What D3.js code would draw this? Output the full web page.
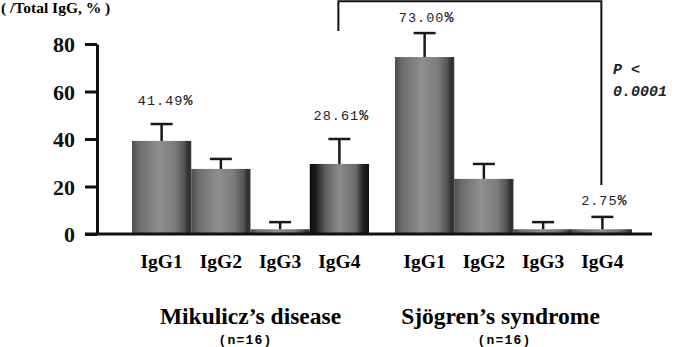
<!DOCTYPE html>
<html>
<head>
<meta charset="utf-8">
<script src="https://cdn.jsdelivr.net/npm/d3@7"></script>
<style>
  body { margin: 0; background: #fff; }
  svg { display: block; }
</style>
</head>
<body>
<svg id="chart"></svg>
<script>
const width = 676;
const height = 347;

// data
const groups = ["Mikulicz\u2019s disease", "Sj\u00f6gren\u2019s syndrome"];
const groupN = ["(n=16)", "(n=16)"];
const subclasses = ["IgG1", "IgG2", "IgG3", "IgG4"];
const mikuliczMeans = [39.2, 27.4, 2.0, 29.5];
const mikuliczErr = [7.1, 4.2, 3.0, 10.5];
const sjogrenMeans = [74.5, 23.2, 2.0, 2.0];
const sjogrenErr = [10.1, 6.3, 3.0, 5.2];
const mikuliczLabels = ["41.49", "", "", "28.61"];
const sjogrenLabels = ["73.00", "", "", "2.75"];
const yTicks = [0, 20, 40, 60, 80];

const rows = [];
[mikuliczMeans, sjogrenMeans].forEach((means, gi) => {
  const errs = gi === 0 ? mikuliczErr : sjogrenErr;
  const labs = gi === 0 ? mikuliczLabels : sjogrenLabels;
  means.forEach((v, i) => {
    rows.push({ group: groups[gi], sub: subclasses[i], value: v, err: errs[i], label: labs[i], gi, i });
  });
});

const svg = d3.select("#chart").attr("width", width).attr("height", height);

const y = d3.scaleLinear().domain([0, 80]).range([234, 44]);
const x0 = d3.scaleBand().domain(groups).range([132, 632]).paddingInner(26 / 263);
const x1 = d3.scaleBand().domain(subclasses).range([0, x0.bandwidth()]);

const serif = "'Liberation Serif', 'Times New Roman', serif";
const mono = "'Liberation Mono', 'DejaVu Sans Mono', monospace";

// bar gradients
const defs = svg.append("defs");
function gradient(id, stops) {
  const g = defs.append("linearGradient").attr("id", id)
    .attr("x1", "0%").attr("x2", "100%").attr("y1", "0%").attr("y2", "0%");
  stops.forEach(([o, c]) => g.append("stop").attr("offset", o).attr("stop-color", c));
}
gradient("barGrad", [[0, "#4c4c4c"], [0.12, "#6c6c6c"], [0.45, "#8f8f8f"], [0.72, "#7c7c7c"], [0.88, "#555"], [0.95, "#2e2e2e"], [1, "#3c3c3c"]]);
gradient("barGradDark", [[0, "#0e0e0e"], [0.1, "#1a1a1a"], [0.25, "#5a5a5a"], [0.5, "#8c8c8c"], [0.78, "#6a6a6a"], [0.9, "#222"], [1, "#111"]]);

const xPos = (d) => x0(d.group) + x1(d.sub);
const cx = (d) => xPos(d) + x1.bandwidth() / 2;

svg.append("g")
  .selectAll("rect")
  .data(rows)
  .enter()
  .append("rect")
  .attr("x", xPos)
  .attr("y", (d) => y(d.value))
  .attr("width", x1.bandwidth())
  .attr("height", (d) => y(0) - y(d.value))
  .attr("fill", (d) => (d.gi === 0 && d.i === 3 ? "url(#barGradDark)" : "url(#barGrad)"));

// error bars (upper only)
const err = svg.append("g").attr("stroke", "#1a1a1a").attr("stroke-width", 2.5);
err.selectAll("line.stem")
  .data(rows)
  .enter()
  .append("line")
  .attr("class", "stem")
  .attr("x1", cx).attr("x2", cx)
  .attr("y1", (d) => y(d.value))
  .attr("y2", (d) => y(d.value + d.err));
err.selectAll("line.cap")
  .data(rows)
  .enter()
  .append("line")
  .attr("class", "cap")
  .attr("x1", (d) => cx(d) - 11).attr("x2", (d) => cx(d) + 11)
  .attr("y1", (d) => y(d.value + d.err))
  .attr("y2", (d) => y(d.value + d.err));

// y axis
const yAxis = svg.append("g")
  .attr("transform", "translate(97,0)")
  .call(d3.axisLeft(y).tickValues(yTicks).tickSize(12).tickSizeOuter(0).tickPadding(10))
  .attr("font-family", serif)
  .attr("font-size", 22)
  .attr("font-weight", "bold");
yAxis.select(".domain").attr("stroke", "#111").attr("stroke-width", 3);
yAxis.selectAll(".tick line").attr("stroke", "#111").attr("stroke-width", 3);
yAxis.selectAll(".tick text")
  .attr("fill", "#111")
  .attr("dy", "0.36em")
  .attr("font-family", serif);

// baseline
svg.append("line")
  .attr("x1", 85).attr("x2", 652)
  .attr("y1", y(0)).attr("y2", y(0))
  .attr("stroke", "#111").attr("stroke-width", 3);

// y axis unit label
svg.append("text")
  .attr("x", 1).attr("y", 13)
  .attr("font-family", serif)
  .attr("font-weight", "bold")
  .attr("font-size", 15.5)
  .text("( /Total IgG, % )");

// value labels
const vl = svg.append("g")
  .selectAll("text")
  .data(rows.filter((d) => d.label))
  .enter()
  .append("text")
  .attr("x", (d) => cx(d) + (d.gi === 0 && d.i === 0 ? 4 : 2))
  .attr("y", (d) => y(d.value + d.err) - (d.gi === 1 && d.i === 0 ? 11 : d.gi === 1 ? 12 : 19))
  .attr("text-anchor", "middle")
  .attr("font-family", mono)
  .attr("font-size", 13.5)
  .attr("letter-spacing", 1)
  .attr("fill", "#222");
vl.append("tspan").text((d) => d.label);
vl.append("tspan").attr("font-weight", "bold").attr("font-size", 15).text("%");

// subclass labels under each bar
svg.append("g")
  .selectAll("text")
  .data(rows)
  .enter()
  .append("text")
  .attr("x", cx)
  .attr("y", 268)
  .attr("text-anchor", "middle")
  .attr("font-family", serif)
  .attr("font-weight", "bold")
  .attr("font-size", 19.5)
  .text((d) => d.sub);

// group labels
const groupShift = [0, -13];
const nShift = [-5, -9];
const gc = (d) => x0(d) + x0.bandwidth() / 2;
svg.append("g")
  .selectAll("text")
  .data(groups)
  .enter()
  .append("text")
  .attr("x", (d, i) => gc(d) + groupShift[i])
  .attr("y", 324)
  .attr("text-anchor", "middle")
  .attr("font-family", serif)
  .attr("font-weight", "bold")
  .attr("font-size", 23.5)
  .text((d) => d);
svg.append("g")
  .selectAll("text")
  .data(groupN)
  .enter()
  .append("text")
  .attr("x", (d, i) => gc(groups[i]) + nShift[i])
  .attr("y", 344)
  .attr("text-anchor", "middle")
  .attr("font-family", mono)
  .attr("font-weight", "bold")
  .attr("font-size", 13)
  .attr("letter-spacing", 1.2)
  .text((d) => d);

// significance bracket between the IgG4 bars
const left = rows.find((d) => d.gi === 0 && d.i === 3);
const right = rows.find((d) => d.gi === 1 && d.i === 3);
svg.append("path")
  .attr("d", d3.line()([
    [cx(left) - 1, y(85.5)],
    [cx(left) - 1, y(98)],
    [cx(right) - 1, y(98)],
    [cx(right) - 1, y(20.6)]
  ]))
  .attr("fill", "none")
  .attr("stroke", "#111")
  .attr("stroke-width", 2);

const pText = svg.append("text")
  .attr("font-family", mono)
  .attr("font-style", "italic")
  .attr("font-weight", "bold")
  .attr("font-size", 15)
  .attr("fill", "#222");
pText.append("tspan").attr("x", 613).attr("y", 74).text("P <");
pText.append("tspan").attr("x", 613).attr("y", 96).text("0.0001");
</script>
</body>
</html>
